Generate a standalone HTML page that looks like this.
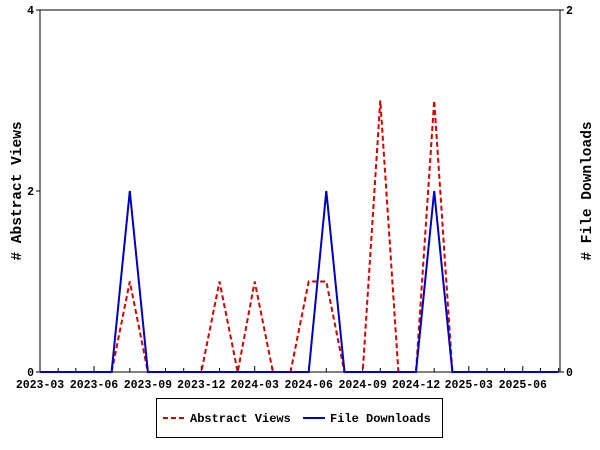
<!DOCTYPE html>
<html><head><meta charset="utf-8"><style>
html,body{margin:0;padding:0;background:#fff;}
svg{display:block;font-family:"Liberation Mono","DejaVu Sans Mono",monospace;font-weight:bold;font-size:11.5px;}
</style></head><body>
<svg id="s" width="600" height="450" xmlns="http://www.w3.org/2000/svg"></svg>
<script>
const s=document.getElementById('s');
const k=0.58664;
function dx(y,m){const d=(Date.UTC(y,m-1,1)-Date.UTC(2023,2,1))/864e5;return 40+d*k;}
let h='';
h+='<rect x="40" y="10" width="520" height="362" fill="none" stroke="#000" stroke-width="1"/>';
const pts=[];
for(let i=0;i<30;i++){const y=2023+Math.floor((i+2)/12),m=(i+2)%12+1;const x=dx(y,m);pts.push(x);
 if(x>560.5)continue;
 const lab=(i%3==0);
 h+=`<line x1="${x.toFixed(1)}" y1="372" x2="${x.toFixed(1)}" y2="${lab?366:368}" stroke="#000"/>`;
 if(lab) h+=`<text x="${x.toFixed(1)}" y="388" text-anchor="middle">${y}-${String(m).padStart(2,'0')}</text>`;}
[[372,'0'],[191,'2'],[10,'4']].forEach(([y,t])=>{h+=`<line x1="36" y1="${y}" x2="40" y2="${y}" stroke="#000"/><text x="34" y="${y+4}" text-anchor="end">${t}</text>`;});
[[372,'0'],[10,'2']].forEach(([y,t])=>{h+=`<line x1="560" y1="${y}" x2="564" y2="${y}" stroke="#000"/><text x="566" y="${y+4}">${t}</text>`;});
h+='<text transform="translate(21,191) rotate(-90)" text-anchor="middle" font-size="14.5">#  Abstract Views</text>';
h+='<text transform="translate(591,191) rotate(-90)" text-anchor="middle" font-size="14.5">#  File Downloads</text>';
const red={5:1,10:1,12:1,15:1,16:1,19:3,22:3},blue={5:1,16:1,22:1};
function path(d,sc){let p='';for(let i=0;i<30;i++){let x=Math.min(pts[i],560);const v=d[i]||0;p+=(i?'L':'M')+x.toFixed(1)+','+(372-v*sc).toFixed(1);}return p;}
h+=`<path d="${path(red,90.5)}" fill="none" stroke="#d00000" stroke-width="2" stroke-dasharray="5,3"/>`;
h+=`<path d="${path(blue,181)}" fill="none" stroke="#0000c0" stroke-width="2"/>`;
h+='<rect x="156.5" y="398.5" width="286" height="39" fill="#fff" stroke="#000"/>';
h+='<line x1="163" y1="418" x2="184" y2="418" stroke="#d00000" stroke-width="2" stroke-dasharray="5,3"/>';
h+='<text x="190" y="422" font-size="12">Abstract Views</text>';
h+='<line x1="303" y1="418" x2="325" y2="418" stroke="#0000c0" stroke-width="2"/>';
h+='<text x="330" y="422" font-size="12">File Downloads</text>';
s.innerHTML=h;
</script>
</body></html>
